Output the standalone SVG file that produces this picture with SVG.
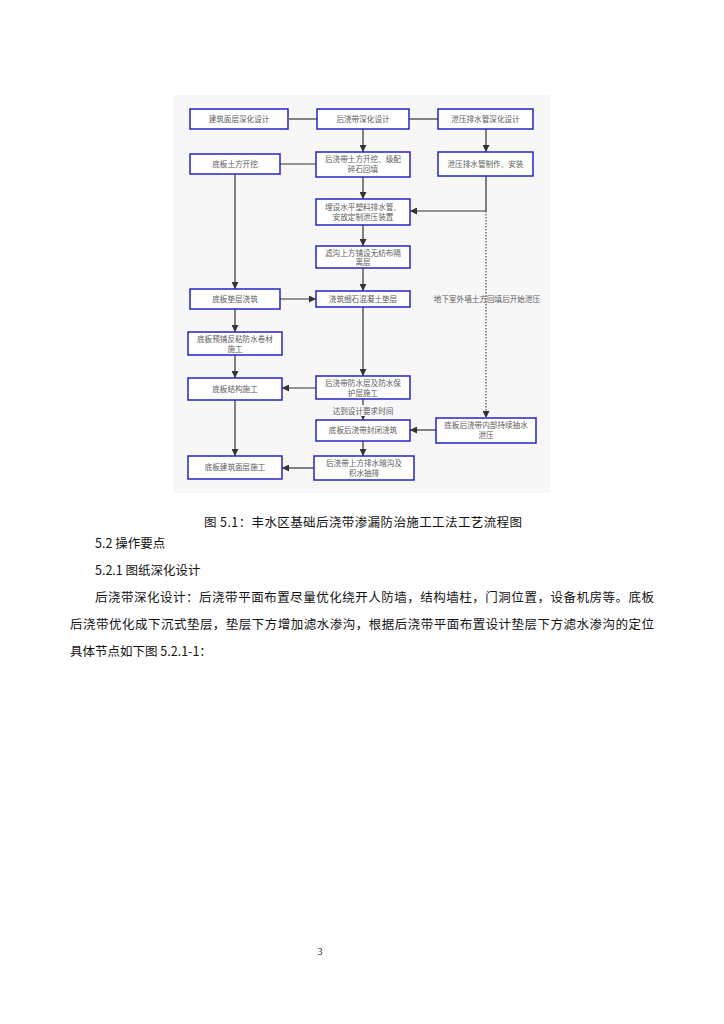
<svg xmlns="http://www.w3.org/2000/svg" width="724" height="1024" viewBox="0 0 724 1024">
<defs>
<marker id="ah" viewBox="0 0 10 10" refX="10" refY="5" markerWidth="7" markerHeight="7" markerUnits="userSpaceOnUse" orient="auto">
<path d="M0,0 L10,5 L0,10 z" fill="#333"/>
</marker>
</defs>
<style>
.box{fill:#fff;stroke:#2424c8;stroke-width:1.5}
.ft{font-family:"Noto Sans CJK SC","Noto Sans",sans-serif;font-size:7.6px;fill:#5a5a5a;text-anchor:middle}
.ln{fill:none;stroke:#333;stroke-width:1.2}
.dt{fill:none;stroke:#555;stroke-width:1.2;stroke-dasharray:1.5 1.5}
.bt{font-family:"Noto Sans CJK SC","Noto Sans",sans-serif;font-size:12.5px;fill:#111}
</style>
<rect x="0" y="0" width="724" height="1024" fill="#fff"/>
<rect x="173" y="95" width="377" height="398" fill="#f7f7f7"/>

<g id="connectors">
<line class="ln" x1="289" y1="119" x2="317" y2="119"/>
<line class="ln" x1="409" y1="119" x2="438" y2="119"/>
<line class="ln" x1="363" y1="129" x2="363" y2="152" marker-end="url(#ah)"/>
<line class="ln" x1="486" y1="129" x2="486" y2="152" marker-end="url(#ah)"/>
<line class="ln" x1="280" y1="164" x2="316" y2="164"/>
<line class="ln" x1="235" y1="174" x2="235" y2="289" marker-end="url(#ah)"/>
<line class="ln" x1="363" y1="177" x2="363" y2="199" marker-end="url(#ah)"/>
<polyline class="ln" points="486,176 486,211 410,211" marker-end="url(#ah)"/>
<line class="dt" x1="486" y1="211" x2="486" y2="418" marker-end="url(#ah)"/>
<line class="ln" x1="363" y1="225" x2="363" y2="246" marker-end="url(#ah)"/>
<line class="ln" x1="363" y1="268" x2="363" y2="291" marker-end="url(#ah)"/>
<line class="ln" x1="280" y1="299" x2="316" y2="299" marker-end="url(#ah)"/>
<line class="ln" x1="235" y1="309" x2="235" y2="332" marker-end="url(#ah)"/>
<line class="ln" x1="235" y1="355" x2="235" y2="378" marker-end="url(#ah)"/>
<line class="ln" x1="363" y1="307" x2="363" y2="376" marker-end="url(#ah)"/>
<line class="ln" x1="316" y1="388" x2="282" y2="388" marker-end="url(#ah)"/>
<line class="ln" x1="363" y1="399" x2="363" y2="420" marker-end="url(#ah)"/>
<line class="ln" x1="436" y1="430" x2="410" y2="430" marker-end="url(#ah)"/>
<line class="ln" x1="363" y1="441" x2="363" y2="456" marker-end="url(#ah)"/>
<line class="ln" x1="314" y1="468" x2="282" y2="468" marker-end="url(#ah)"/>
<line class="ln" x1="235" y1="400" x2="235" y2="456" marker-end="url(#ah)"/>
<rect x="331" y="405" width="64" height="11" fill="#f7f7f7"/>
<text class="ft" x="363" y="414">达到设计要求时间</text>
<text class="ft" x="487" y="302">地下室外墙土方回填后开始泄压</text>
</g>

<g id="A1"><rect class="box" x="190" y="109" width="98" height="20"/><text class="ft" x="239" y="122">建筑面层深化设计</text></g>
<g id="A2"><rect class="box" x="317" y="109" width="92" height="20"/><text class="ft" x="363" y="122">后浇带深化设计</text></g>
<g id="A3"><rect class="box" x="438" y="109" width="95" height="20"/><text class="ft" x="485.5" y="122">泄压排水管深化设计</text></g>
<g id="B1"><rect class="box" x="190" y="154" width="90" height="20"/><text class="ft" x="235" y="167">底板土方开挖</text></g>
<g id="B2"><rect class="box" x="316" y="152" width="94" height="25"/><text class="ft" x="363" y="162">后浇带土方开挖、级配</text><text class="ft" x="363" y="172">碎石回填</text></g>
<g id="B3"><rect class="box" x="438" y="152" width="95" height="24"/><text class="ft" x="485.5" y="167">泄压排水管制作、安装</text></g>
<g id="C2"><rect class="box" x="316" y="199" width="94" height="26"/><text class="ft" x="363" y="210">埋设水平塑料排水管、</text><text class="ft" x="363" y="220">安放定制泄压装置</text></g>
<g id="D2"><rect class="box" x="316" y="246" width="94" height="22"/><text class="ft" x="363" y="256">滤沟上方铺设无纺布隔</text><text class="ft" x="363" y="265">离层</text></g>
<g id="E1"><rect class="box" x="190" y="289" width="90" height="20"/><text class="ft" x="235" y="302">底板垫层浇筑</text></g>
<g id="E2"><rect class="box" x="316" y="291" width="94" height="16"/><text class="ft" x="363" y="302">浇筑细石混凝土垫层</text></g>
<g id="F1"><rect class="box" x="188" y="332" width="94" height="23"/><text class="ft" x="235" y="342">底板预铺反粘防水卷材</text><text class="ft" x="235" y="352">施工</text></g>
<g id="G1"><rect class="box" x="188" y="378" width="94" height="22"/><text class="ft" x="235" y="391.5">底板结构施工</text></g>
<g id="G2"><rect class="box" x="316" y="376" width="94" height="23"/><text class="ft" x="363" y="386">后浇带防水层及防水保</text><text class="ft" x="363" y="396">护层施工</text></g>
<g id="H2"><rect class="box" x="316" y="420" width="94" height="21"/><text class="ft" x="363" y="433">底板后浇带封闭浇筑</text></g>
<g id="H3"><rect class="box" x="436" y="418" width="100" height="25"/><text class="ft" x="486" y="428">底板后浇带内部持续抽水</text><text class="ft" x="486" y="438">泄压</text></g>
<g id="I1"><rect class="box" x="188" y="456" width="94" height="23"/><text class="ft" x="235" y="470">底板建筑面层施工</text></g>
<g id="I2"><rect class="box" x="314" y="456" width="100" height="24"/><text class="ft" x="364" y="466">后浇带上方排水暗沟及</text><text class="ft" x="364" y="476">积水抽排</text></g>

<g id="body">
<text class="bt" x="204" y="527" textLength="318" lengthAdjust="spacing">图 5.1：丰水区基础后浇带渗漏防治施工工法工艺流程图</text>
<text class="bt" x="95" y="548">5.2 操作要点</text>
<text class="bt" x="95" y="575">5.2.1 图纸深化设计</text>
<text class="bt" x="95" y="602" textLength="559" lengthAdjust="spacing">后浇带深化设计：后浇带平面布置尽量优化绕开人防墙，结构墙柱，门洞位置，设备机房等。底板</text>
<text class="bt" x="70" y="629" textLength="584" lengthAdjust="spacing">后浇带优化成下沉式垫层，垫层下方增加滤水渗沟，根据后浇带平面布置设计垫层下方滤水渗沟的定位</text>
<text class="bt" x="70" y="656">具体节点如下图 5.2.1-1：</text>
<text x="320" y="955" font-family="Liberation Serif,serif" font-size="10" fill="#222" text-anchor="middle">3</text>
</g>
</svg>
